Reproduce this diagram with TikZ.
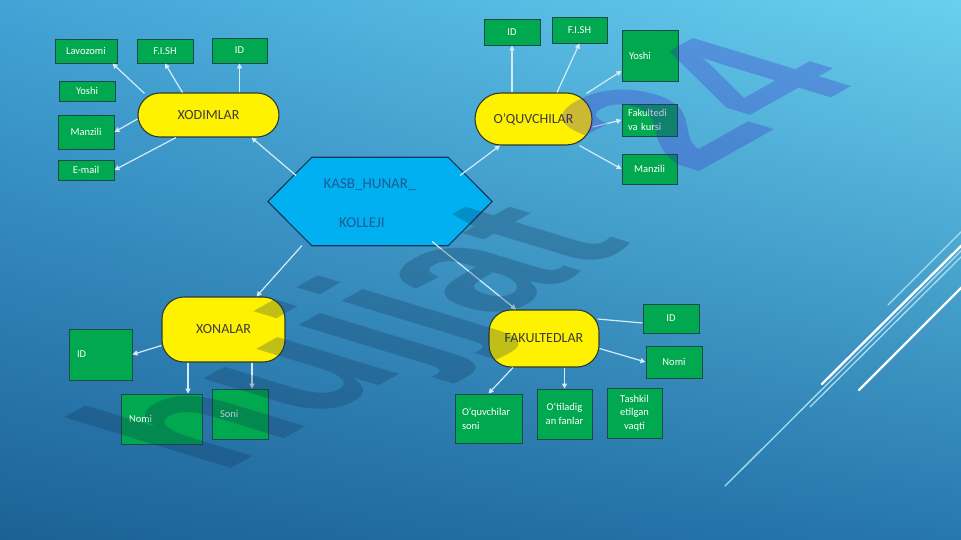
\documentclass[tikz,border=0pt]{standalone}
\usepackage{fontspec}
\setmainfont{Carlito}
\newfontfamily\wmfont{Liberation Sans}
\usetikzlibrary{arrows.meta,calc,shadings}
\definecolor{bgUL}{HTML}{42A3D6}
\definecolor{bgUR}{HTML}{6AD0EE}
\definecolor{bgLL}{HTML}{1C6196}
\definecolor{bgLR}{HTML}{2677AD}
\definecolor{gfill}{HTML}{00A84F}
\definecolor{gborder}{HTML}{1A4A48}
\definecolor{pborder}{HTML}{2E3A30}
\definecolor{ptext}{HTML}{3C3C3C}
\definecolor{hfill}{HTML}{00B0F0}
\definecolor{hborder}{HTML}{14365A}
\definecolor{htext}{HTML}{1D5B95}
\definecolor{lnc}{HTML}{D4ECF8}
\definecolor{wmA}{HTML}{0E2F55}
\definecolor{wmB}{HTML}{3C18C8}
\definecolor{decoA}{HTML}{FFFFFF}
\definecolor{decoB}{HTML}{A8DDF2}
\begin{document}
\begin{tikzpicture}[x=1pt,y=-1pt,
  gbox/.style={draw=gborder, fill=gfill, line width=0.9pt, inner sep=0pt, text=white,
    font=\fontsize{10.5}{13.5}\selectfont, align=center},
  pill/.style={draw=pborder, fill=yellow, line width=1.1pt, inner sep=0pt, text=ptext,
    font=\fontsize{14}{16}\selectfont},
  hexdraw/.style={draw=hborder, fill=hfill, line width=1.1pt, line join=miter},
  htxt/.style={text=htext, font=\fontsize{15}{17}\selectfont, inner sep=0pt},
  arr/.style={draw=lnc, line width=1.2pt, -{Triangle[length=5pt,width=5pt]}},
  ln/.style={draw=lnc, line width=1.2pt},
  thick deco/.style={draw=decoA, line width=2.4pt, line cap=round},
  thin deco/.style={draw=decoB, line width=1.3pt, line cap=round},
  wmtext/.style={transform shape, anchor=base west, inner sep=0pt,
    font=\wmfont\bfseries\fontsize{100}{100}\selectfont}]
\useasboundingbox (0,0) rectangle (961,540);
\clip (0,0) rectangle (961,540);
\shade[upper left=bgUL, upper right=bgUR, lower left=bgLL, lower right=bgLR] (0,0) rectangle (961,540);

% decorative lines
\draw[thin deco] (725,486) -- (962,250);
\draw[thick deco] (822,384) -- (962,245);
\draw[thin deco] (810,407) -- (962,256);
\draw[thin deco] (888,305) -- (962,231);
\draw[thick deco] (859,390) -- (962,287);

% central hexagon
\node[minimum width=224pt, minimum height=88pt, inner sep=0pt] (hex) at (380,201.5) {};
\draw[hexdraw] (hex.west) -- ([shift={(44,0)}]hex.north west) -- ([shift={(-44,0)}]hex.north east)
  -- (hex.east) -- ([shift={(-44,0)}]hex.south east) -- ([shift={(44,0)}]hex.south west) -- cycle;
\node[htxt] (hexT1) at (369.5,185) {KASB\_HUNAR\_};
\node[htxt] (hexT2) at (362,222.5) {KOLLEJI};

% XODIMLAR
\node[pill, minimum width=141pt, minimum height=44pt, rounded corners=22pt] (xod) at (208.5,115) {XODIMLAR};
\node[gbox, minimum width=62pt, minimum height=24pt] (xlav) at (86,51) {Lavozomi};
\node[gbox, minimum width=56pt, minimum height=24pt] (xfish) at (165,51) {F.I.SH};
\node[gbox, minimum width=55pt, minimum height=25pt] (xid) at (239.5,50.5) {ID};
\node[gbox, minimum width=56pt, minimum height=20pt] (xyos) at (87,91) {Yoshi};
\node[gbox, minimum width=56pt, minimum height=34pt] (xman) at (86,132) {Manzili};
\node[gbox, minimum width=56pt, minimum height=20pt] (xmail) at (86,170) {E-mail};

% O'QUVCHILAR
\node[pill, minimum width=117pt, minimum height=52pt, rounded corners=26pt] (oq) at (533.5,119) {O’QUVCHILAR};
\node[gbox, minimum width=56pt, minimum height=26pt] (oid) at (512,32) {ID};
\node[gbox, minimum width=55pt, minimum height=26pt] (ofish) at (579.5,30) {F.I.SH};
\node[gbox, minimum width=56pt, minimum height=51pt, text width=42pt, align=left] (oyos) at (650,55.5) {Yoshi};
\node[gbox, minimum width=55pt, minimum height=32pt, text width=43pt, align=left] (ofak) at (649.5,120) {Fakultedi\\va kursi};
\node[gbox, minimum width=55pt, minimum height=30pt] (oman) at (649.5,169) {Manzili};

% XONALAR
\node[pill, minimum width=123pt, minimum height=65pt, rounded corners=22pt] (xon) at (223.5,329.5) {XONALAR};
\node[gbox, minimum width=63pt, minimum height=51pt, text width=47pt, align=left] (nid) at (100.5,354.5) {ID};
\node[gbox, minimum width=81pt, minimum height=50pt, text width=65pt, align=left] (nnom) at (161.5,419) {Nomi};
\node[gbox, minimum width=56pt, minimum height=50pt, text width=40pt, align=left] (nson) at (240,414) {Soni};

% FAKULTEDLAR
\node[pill, minimum width=110pt, minimum height=57pt, rounded corners=22pt] (fak) at (544,338.5) {FAKULTEDLAR};
\node[gbox, minimum width=56pt, minimum height=29pt] (fid) at (671,318.5) {ID};
\node[gbox, minimum width=56pt, minimum height=32pt] (fnom) at (674,362) {Nomi};
\node[gbox, minimum width=67pt, minimum height=49pt, text width=53pt, align=left] (fsoni) at (488.5,418.5) {O‘quvchilar\\soni};
\node[gbox, minimum width=55pt, minimum height=50pt] (ffan) at (564.5,414) {O‘tiladig\\an fanlar};
\node[gbox, minimum width=55pt, minimum height=50pt] (ftash) at (634.5,413) {Tashkil\\etilgan\\vaqti};

% connectors from the hexagon
\draw[arr] ([shift={(-84,-26)}]hex.center) -- ([shift={(43,0)}]xod.south);
\draw[arr] ([shift={(80,-26)}]hex.center) -- ([shift={(-33.5,0)}]oq.south);
\draw[arr] ([shift={(-78,44)}]hex.center) -- ([shift={(33,0)}]xon.north);
\draw[arr] ([shift={(52,40)}]hex.center) -- ([shift={(-28,0)}]fak.north);

% XODIMLAR attributes
\draw[arr] ([shift={(-64,1)}]xod.north) -- ([shift={(-5,0)}]xlav.south east);
\draw[arr] ([shift={(-26,0)}]xod.north) -- (xfish.south);
\draw[arr] ([shift={(31,0)}]xod.north) -- (xid.south);
\draw[arr] ([shift={(0,4)}]xod.west) -- (xman.east);
\draw[arr] ([shift={(-32.5,0)}]xod.south) -- (xmail.east);

% O'QUVCHILAR attributes
\draw[arr] ([shift={(-21.5,0)}]oq.north) -- (oid.south);
\draw[arr] ([shift={(23.5,0)}]oq.north) -- (ofish.south);
\draw[arr] ([shift={(53,1)}]oq.north) -- ([shift={(0,15.5)}]oyos.west);
\draw[arr] ([shift={(0,8)}]oq.east) -- (ofak.west);
\draw[arr] ([shift={(46,0)}]oq.south) -- (oman.west);

% XONALAR attributes
\draw[arr] ([shift={(0,16)}]xon.west) -- (nid.east);
\draw[arr] ([shift={(-35.5,0)}]xon.south) -- ([shift={(26.5,0)}]nnom.north);
\draw[arr] ([shift={(28.5,0)}]xon.south) -- ([shift={(12,0)}]nson.north);

% FAKULTEDLAR attributes
\draw[ln] ([shift={(-2,-19.5)}]fak.east) -- ([shift={(0,4.5)}]fid.west);
\draw[arr] ([shift={(0,10)}]fak.east) -- (fnom.west);
\draw[arr] ([shift={(-31,0)}]fak.south) -- (fsoni.north);
\draw[arr] ([shift={(20.5,0)}]fak.south) -- (ffan.north);

% watermark
\begin{scope}[cm={1.55,0.87,-2.30,0.70,(220,475)}]
\node[wmtext, text=wmA, text opacity=0.26] (wm1) at (0,0) {hujjat};
\end{scope}
\begin{scope}[cm={1.55,0.87,-2.30,0.70,(694,175)}]
\node[wmtext, text=wmB, text opacity=0.26] (wm2) at (0,0) {24};
\end{scope}
\end{tikzpicture}
\end{document}
